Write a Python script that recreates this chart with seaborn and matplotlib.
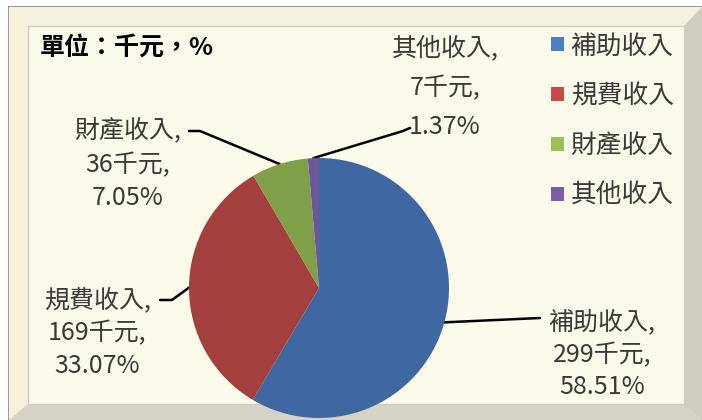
"""Pie chart of income sources (單位：千元，%)."""

import matplotlib.pyplot as plt
import numpy as np
import seaborn as sns
from matplotlib.patches import Patch, Polygon, Rectangle

categories = ['補助收入', '規費收入', '財產收入', '其他收入']
values = [299, 169, 36, 7]
percents = [58.51, 33.07, 7.05, 1.37]
unit_title = '單位：千元，%'

pie_colors = ['#3F68A3', '#A33F3C', '#809F49', '#6E5699']
legend_colors = ['#4A7EC6', '#C64B4A', '#9BBF55', '#7D5CA8']

sns.set_theme(style='white')
plt.rcParams['font.family'] = ['Noto Sans CJK TC', 'DejaVu Sans']

W, H = 702, 420
fig = plt.figure(figsize=(W / 100, H / 100), dpi=100, facecolor='white')

# background frame, in pixel coordinates (y down)
bg = fig.add_axes([0, 0, 1, 1], zorder=0)
bg.set_xlim(0, W)
bg.set_ylim(H, 0)
bg.axis('off')

bg.add_patch(Rectangle((9, 7), 693, 413, fc='#EDE9D2', ec='#9A9A9A', lw=1.5))
bg.add_patch(Polygon([(9, 7), (702, 7), (684, 26), (28, 26)], fc='#F4F1DE', ec='none'))
bg.add_patch(Polygon([(9, 7), (28, 26), (28, 404), (9, 420)], fc='#F5F1DA', ec='none'))
bg.add_patch(Polygon([(684, 26), (702, 7), (702, 420), (684, 404)], fc='#CFCDC0', ec='none'))
bg.add_patch(Polygon([(28, 404), (684, 404), (702, 420), (9, 420)], fc='#D6D3C6', ec='none'))
bg.add_patch(Rectangle((28, 26), 656, 378, fc='#FCFAEA', ec='#D3CFBB', lw=1))

# pie axes: circle centred at (319, 288) with radius 130 px
ax = fig.add_axes([189 / W, 2 / H, 260 / W, 260 / H], zorder=1)
wedges, _ = ax.pie(values, colors=pie_colors, startangle=90, counterclock=False,
                   wedgeprops=dict(linewidth=0))
ax.set_xlim(-1, 1)
ax.set_ylim(-1, 1)
ax.axis('off')
for w in wedges:
    w.set_clip_on(False)

# leader-line routes (from the pie edge towards the label) and label placement
routes = [
    [(540, 318)],
    [(172, 300), (160, 300)],
    [(200, 131), (189, 131)],
    [(403, 131), (410, 128)],
]
label_x = [602, 97, 128, 445]
label_y = [[322, 355, 387], [300, 333, 366], [130, 165, 198], [48, 88, 127]]

to_bg = bg.transData.inverted()
for i, w in enumerate(wedges):
    mid = np.deg2rad((w.theta1 + w.theta2) / 2)
    edge = to_bg.transform(ax.transData.transform((np.cos(mid), np.sin(mid))))
    pts = [tuple(edge)] + routes[i]
    xs, ys = zip(*pts)
    bg.plot(xs, ys, color='black', lw=1.8, solid_capstyle='round', zorder=3)

    lines = [f'{categories[i]},', f'{values[i]}千元,', f'{percents[i]:.2f}%']
    for txt, y in zip(lines, label_y[i]):
        bg.text(label_x[i], y, txt, ha='center', va='center', fontsize=18,
                color='#3A3A3A', zorder=4)

bg.text(40, 48, unit_title, ha='left', va='center', fontsize=18,
        fontweight='bold', color='black')

handles = [Patch(fc=c, ec='none') for c in legend_colors]
bg.legend(handles, categories, loc='upper left', bbox_to_anchor=(541 / W, 1 - 23 / H),
          frameon=False, fontsize=18.5, handlelength=0.5, handleheight=0.5,
          handletextpad=0.25, labelspacing=0.93, borderaxespad=0, labelcolor='#3A3A3A')

fig.savefig('out.png', dpi=100, facecolor='white')
